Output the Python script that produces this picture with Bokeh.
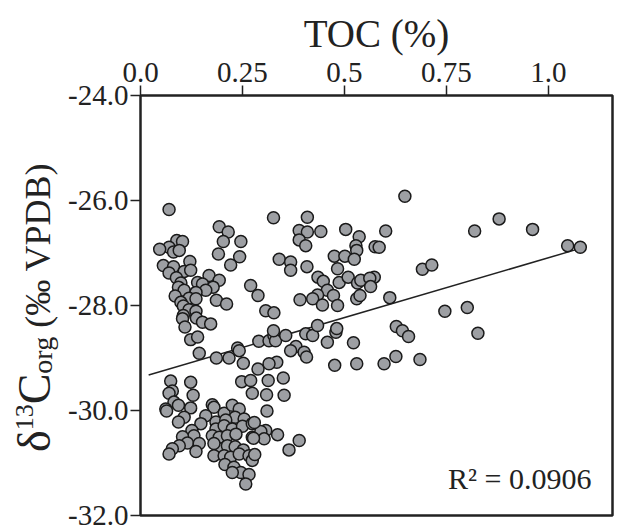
from bokeh.plotting import figure
from bokeh.models import Range1d, FixedTicker, PrintfTickFormatter, CustomJSTickFormatter, Label, Div
from bokeh.layouts import row
from bokeh.embed import file_html
from bokeh.resources import INLINE

# ---- data ----
toc = [
    0.070, 0.193, 0.215, 0.203, 0.246, 0.191, 0.243, 0.221, 0.089, 0.103,
    0.070, 0.047, 0.081, 0.095, 0.121, 0.056, 0.081, 0.070, 0.107, 0.123,
    0.088, 0.099, 0.168, 0.193, 0.140, 0.152, 0.093, 0.107, 0.178, 0.160,
    0.136, 0.085, 0.119, 0.136, 0.099, 0.186, 0.211, 0.105, 0.119, 0.136,
    0.105, 0.137, 0.103, 0.152, 0.172, 0.109, 0.270, 0.288,
    0.123, 0.140, 0.144, 0.186, 0.217, 0.238, 0.242, 0.252, 0.248, 0.270, 0.274,
    0.074, 0.123, 0.078, 0.070, 0.129, 0.082, 0.093, 0.062, 0.064, 0.123,
    0.107, 0.093, 0.176, 0.180, 0.160, 0.205, 0.225, 0.242, 0.232, 0.254,
    0.185, 0.209, 0.148, 0.185, 0.205, 0.225, 0.250, 0.274, 0.126, 0.131,
    0.103, 0.176, 0.193, 0.213, 0.234, 0.274, 0.115, 0.095, 0.078, 0.070,
    0.144, 0.136, 0.193, 0.180, 0.213, 0.232, 0.252, 0.180, 0.205, 0.221,
    0.242, 0.266, 0.207, 0.229, 0.246, 0.225, 0.266, 0.258, 0.274,
    0.336, 0.307, 0.295, 0.303, 0.277, 0.364, 0.389, 0.310, 0.279, 0.280,
    0.290, 0.315, 0.327, 0.331, 0.356, 0.405, 0.422, 0.434, 0.479, 0.458,
    0.522, 0.381, 0.368, 0.401, 0.407, 0.476, 0.530, 0.334, 0.315, 0.288,
    0.313, 0.350, 0.309, 0.352, 0.307, 0.327, 0.481, 0.326,
    0.326, 0.409, 0.389, 0.409, 0.442, 0.389, 0.405, 0.503, 0.536, 0.528,
    0.530, 0.475, 0.501, 0.524, 0.483, 0.340, 0.368, 0.368, 0.408, 0.435,
    0.448, 0.458, 0.434, 0.422, 0.446, 0.473, 0.483, 0.391, 0.487, 0.509,
    0.532, 0.540, 0.530, 0.538,
    0.648, 0.601, 0.575, 0.585, 0.819, 0.879, 0.961, 1.047, 1.078, 0.691,
    0.714, 0.573, 0.562, 0.564, 0.611, 0.746, 0.801, 0.627, 0.642, 0.657,
    0.827, 0.626, 0.597, 0.685,
]

d13c_org = [
    -26.17, -26.50, -26.60, -26.78, -26.78, -27.02, -27.07, -27.23, -26.76, -26.78,
    -26.89, -26.93, -26.98, -26.95, -27.16, -27.24, -27.26, -27.38, -27.35, -27.33,
    -27.47, -27.57, -27.43, -27.52, -27.56, -27.59, -27.65, -27.71, -27.65, -27.71,
    -27.75, -27.82, -27.86, -27.87, -27.94, -27.90, -27.97, -28.01, -28.08, -28.11,
    -28.19, -28.24, -28.25, -28.32, -28.35, -28.41, -27.62, -27.81,
    -28.65, -28.60, -28.91, -29.00, -29.00, -28.81, -28.86, -29.10, -29.45, -29.43, -29.67,
    -29.44, -29.46, -29.63, -29.67, -29.71, -29.84, -29.90, -29.97, -30.01, -29.95,
    -30.13, -30.22, -29.89, -29.94, -30.10, -30.05, -29.90, -29.97, -30.13, -30.16,
    -30.22, -30.18, -30.25, -30.35, -30.29, -30.35, -30.30, -30.25, -30.38, -30.48,
    -30.50, -30.48, -30.51, -30.48, -30.45, -30.51, -30.62, -30.67, -30.73, -30.83,
    -30.63, -30.78, -30.73, -30.63, -30.67, -30.69, -30.75, -30.86, -30.86, -30.89,
    -30.83, -30.86, -31.03, -31.08, -31.18, -31.18, -31.22, -31.40, -30.95,
    -30.46, -30.38, -30.40, -30.54, -30.53, -30.75, -30.57, -30.01, -30.23, -30.84,
    -28.68, -28.67, -28.57, -28.67, -28.57, -28.54, -28.57, -28.38, -28.51, -28.70,
    -28.71, -28.78, -28.86, -28.89, -28.98, -29.14, -29.11, -29.08, -29.11, -29.21,
    -29.43, -29.38, -29.70, -29.71, -28.10, -28.14, -28.44, -28.48,
    -26.33, -26.32, -26.57, -26.60, -26.59, -26.75, -26.86, -26.55, -26.69, -26.86,
    -26.95, -27.06, -27.06, -27.12, -27.30, -27.12, -27.17, -27.33, -27.26, -27.46,
    -27.54, -27.71, -27.80, -27.87, -27.99, -27.81, -28.00, -27.89, -27.56, -27.46,
    -27.57, -27.52, -27.87, -27.81,
    -25.92, -26.58, -26.88, -26.89, -26.58, -26.35, -26.55, -26.86, -26.89, -27.31,
    -27.23, -27.46, -27.48, -27.64, -27.85, -28.11, -28.04, -28.40, -28.48, -28.59,
    -28.53, -28.97, -29.11, -29.03,
]

assert len(toc) == len(d13c_org)

# linear fit as drawn in the reference
fit_slope = 2.28
fit_intercept = -29.37
fit_x_extent = [0.02, 1.08]
r_squared_text = "R\u00b2 = 0.0906"

x_title = "TOC (%)"
x_ticks = [0.0, 0.25, 0.5, 0.75, 1.0]
x_tick_labels = ["0.0", "0.25", "0.5", "0.75", "1.0"]
y_ticks = [-24.0, -26.0, -28.0, -30.0, -32.0]

FONT = "Liberation Serif"
INK = "#222222"

# ---- y-axis title (rotated HTML text with super/subscripts) ----
YLAB_W = 64
ylab_html = (
    '<div style="position:absolute; left:11.5px; top:452px; transform-origin:0 0; '
    'transform:rotate(-90deg); white-space:nowrap; font-family:\'Liberation Serif\'; '
    'font-size:46px; line-height:46px; color:#222222;">'
    '\u03b4<span style="font-size:26px; position:relative; top:-17px;">13</span>C'
    '<span style="font-size:28px; position:relative; top:2px;">org</span>'
    '<span style="font-size:36px;"> (\u2030 VPDB)</span></div>'
)
ylab = Div(text=ylab_html, width=YLAB_W, height=526, margin=0)

p = figure(width=617 - YLAB_W, height=526, output_backend="svg", toolbar_location=None,
           x_axis_location="above", x_range=Range1d(0.0, 1.1569),
           y_range=Range1d(-32.0, -24.0), margin=0)
p.min_border_left = 140 - YLAB_W
p.min_border_right = 5
p.min_border_top = 95
p.min_border_bottom = 11
p.background_fill_color = "white"
p.border_fill_color = "white"
p.outline_line_color = INK
p.outline_line_width = 2.5
p.grid.visible = False

for ax in (p.xaxis[0], p.yaxis[0]):
    ax.axis_line_color = None
    ax.major_tick_in = 0
    ax.major_tick_out = 10
    ax.major_tick_line_width = 1.5
    ax.major_tick_line_color = INK
    ax.minor_tick_line_color = None
    ax.major_label_text_font = FONT
    ax.major_label_text_font_size = "29px"
    ax.major_label_text_color = INK

p.xaxis.ticker = FixedTicker(ticks=x_ticks)
p.xaxis.formatter = CustomJSTickFormatter(args=dict(vals=x_ticks, labs=x_tick_labels), code="""
const i = vals.findIndex(v => Math.abs(v - tick) < 1e-9);
return i >= 0 ? labs[i] : "";
""")
p.xaxis.major_label_standoff = 4
p.xaxis.axis_label = x_title
p.xaxis.axis_label_text_font = FONT
p.xaxis.axis_label_text_font_style = "normal"
p.xaxis.axis_label_text_font_size = "39px"
p.xaxis.axis_label_text_color = INK
p.xaxis.axis_label_standoff = 5

p.yaxis.ticker = FixedTicker(ticks=y_ticks)
p.yaxis.formatter = PrintfTickFormatter(format="%.1f")
p.yaxis.major_label_standoff = 2

# regression line
fit_y = [fit_intercept + fit_slope * xv for xv in fit_x_extent]
p.line(fit_x_extent, fit_y, line_color=INK, line_width=1.5)

# points
p.scatter(toc, d13c_org, size=12, marker="circle", fill_color="#9d9fa3",
          line_color="#1a1a1a", line_width=1.5)

# R^2 annotation (inside the frame)
p.add_layout(Label(x=(591 - 140) / 408.0, y=-24.0 - (478 - 95) / 52.5,
                   text=r_squared_text, text_align="right",
                   text_baseline="alphabetic", text_font=FONT,
                   text_font_size="30px", text_color=INK))

layout = row(ylab, p, spacing=0)
open("out.html", "w").write(file_html(layout, INLINE))
